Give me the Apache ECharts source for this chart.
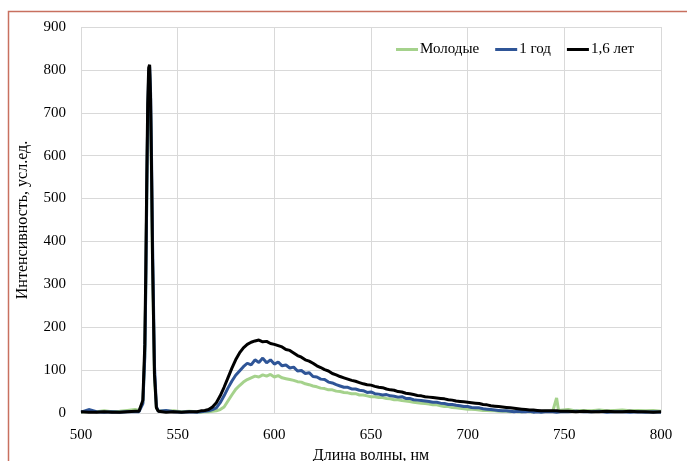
<!DOCTYPE html>
<html>
<head>
<meta charset="utf-8">
<script src="https://cdn.jsdelivr.net/npm/echarts@6/dist/echarts.min.js"></script>
<style>
  html, body { margin: 0; padding: 0; background: #fff; }
  #chart { width: 687px; height: 461px; }
</style>
</head>
<body>
<div id="chart"></div>
<script>
// длина волны, нм
var wl = [
  500, 504, 508, 512, 516, 520, 524, 528,
  530, 531, 532, 533, 533.5, 534, 534.5, 535, 535.5, 536, 536.5, 537, 538, 539, 540,
  544, 548, 552, 556, 560,
  562, 564, 566, 568, 570, 572, 574, 576, 578, 580,
  582, 584, 586, 588, 590, 592, 594, 596, 598, 600,
  602, 604, 606, 608, 610, 612, 614, 616, 618, 620,
  622, 624, 626, 628, 630, 632, 634, 636, 638, 640,
  642, 644, 646, 648, 650, 652, 654, 656, 658, 660,
  662, 664, 666, 668, 670, 672, 674, 676, 678, 680,
  682, 684, 686, 688, 690, 692, 694, 696, 698, 700,
  702, 704, 706, 708, 710, 712, 714, 716, 718, 720,
  722, 724, 726, 728, 730, 732, 734, 736, 738, 740,
  744, 745, 746, 747, 748, 752, 756, 760, 764, 768, 772, 776, 780, 784, 788, 792, 796, 800
];

var molodye = [
  2, 4, 3, 5, 3, 4, 6, 8,
  6, 5, 25, 140, 300, 500, 680, 770, 790, 700, 540, 350, 85, 12, 5,
  4, 5, 3, 4, 3,
  2, 3, 3, 4, 5, 8, 14, 28, 42, 55,
  64, 72, 78, 82, 86, 84, 89, 86, 90, 84,
  87, 82, 80, 78, 76, 73, 72, 68, 66, 63,
  61, 58, 57, 54, 54, 51, 50, 48, 47, 45,
  45, 42, 42, 40, 38, 38, 36, 36, 34, 33,
  31, 31, 29, 28, 27, 25, 24, 23, 22, 21,
  19, 19, 17, 15, 15, 13, 12, 11, 10, 9,
  9, 8, 7, 6, 6, 5, 5, 4, 4, 4,
  3, 4, 3, 3, 4, 3, 3, 4, 3, 4,
  4, 5, 35, 6, 5, 8, 5, 6, 5, 7, 5, 6, 7, 5, 6, 5, 6, 4
];

var god1 = [
  2, 8, 3, 2, 3, 2, 3, 3,
  3, 4, 22, 130, 290, 500, 690, 790, 808, 745, 590, 400, 110, 15, 4,
  6, 3, 2, 3, 2,
  3, 4, 5, 8, 12, 24, 40, 58, 74, 88,
  98, 108, 116, 112, 124, 118, 128, 117, 124, 114,
  119, 110, 112, 105, 107, 98, 99, 92, 94, 85,
  84, 79, 78, 72, 70, 66, 63, 60, 60, 56,
  56, 53, 52, 48, 49, 45, 44, 42, 43, 40,
  39, 37, 38, 34, 34, 31, 30, 29, 28, 27,
  25, 25, 23, 22, 20, 20, 18, 17, 15, 15,
  13, 12, 12, 10, 9, 8, 7, 6, 5, 5,
  4, 3, 4, 3, 3, 4, 2, 3, 2, 3,
  3, 2, 2, 3, 3, 3, 4, 3, 3, 4, 2, 3, 3, 2, 3, 2, 3, 2
];

var let16 = [
  3, 2, 2, 3, 2, 2, 3, 4,
  4, 6, 30, 160, 330, 540, 720, 805, 812, 730, 560, 360, 90, 12, 4,
  2, 3, 2, 3, 3,
  5, 6, 8, 14, 24, 40, 60, 82, 104, 124,
  140, 152, 160, 165, 168, 170, 166, 167, 162, 160,
  157, 154, 148, 146, 140, 134, 130, 124, 121, 116,
  110, 106, 101, 98, 92, 89, 85, 82, 79, 76,
  74, 71, 68, 66, 65, 62, 60, 59, 56, 54,
  53, 50, 49, 46, 45, 43, 41, 40, 38, 37,
  36, 35, 34, 33, 31, 30, 28, 27, 26, 25,
  24, 23, 22, 20, 19, 17, 16, 15, 14, 13,
  12, 11, 10, 9, 8, 7, 7, 6, 5, 5,
  5, 4, 5, 4, 4, 4, 3, 4, 3, 3, 4, 3, 3, 4, 3, 3, 2, 3
];

var seriesNames = ['Молодые', '1 год', '1,6 лет'];
var seriesColors = ['#a5d28c', '#2f5597', '#000000'];
var seriesData = [molodye, god1, let16];

function pairs(vals) {
  return wl.map(function (x, i) { return [x, vals[i]]; });
}

var font = 'Liberation Serif';

var chart = echarts.init(document.getElementById('chart'));
chart.setOption({
  animation: false,
  textStyle: { fontFamily: font },
  graphic: [{
    type: 'rect',
    shape: { x: 8.5, y: 11.5, width: 720, height: 520 },
    style: { fill: 'none', stroke: '#c8705f', lineWidth: 1.5 },
    silent: true
  }],
  grid: { left: 81, right: 26, top: 27, bottom: 48, outerBoundsMode: 'none' },
  legend: {
    left: 391,
    top: 37,
    icon: 'rect',
    itemWidth: 22,
    itemHeight: 3,
    itemGap: 16,
    textStyle: { fontFamily: font, fontSize: 15, color: '#000', padding: [0, 0, 0, -3] },
    data: seriesNames
  },
  xAxis: {
    type: 'value',
    min: 500,
    max: 800,
    interval: 50,
    name: 'Длина волны, нм',
    nameLocation: 'middle',
    nameGap: 29,
    nameTextStyle: { fontFamily: font, fontSize: 16, color: '#000' },
    axisLine: { show: false },
    axisTick: { show: false },
    axisLabel: { fontFamily: font, fontSize: 15, color: '#000', margin: 15 },
    splitLine: { show: true, lineStyle: { color: '#d9d9d9', width: 1 } }
  },
  yAxis: {
    type: 'value',
    min: 0,
    max: 900,
    interval: 100,
    name: 'Интенсивность, усл.ед.',
    nameLocation: 'middle',
    nameGap: 50,
    nameTextStyle: { fontFamily: font, fontSize: 16, color: '#000' },
    axisLine: { show: false },
    axisTick: { show: false },
    axisLabel: { fontFamily: font, fontSize: 15, color: '#000', margin: 15 },
    splitLine: { show: true, lineStyle: { color: '#d9d9d9', width: 1 } }
  },
  series: seriesNames.map(function (name, i) {
    return {
      name: name,
      type: 'line',
      data: pairs(seriesData[i]),
      showSymbol: false,
      color: seriesColors[i],
      lineStyle: { width: 3, color: seriesColors[i] }
    };
  })
});
</script>
</body>
</html>
